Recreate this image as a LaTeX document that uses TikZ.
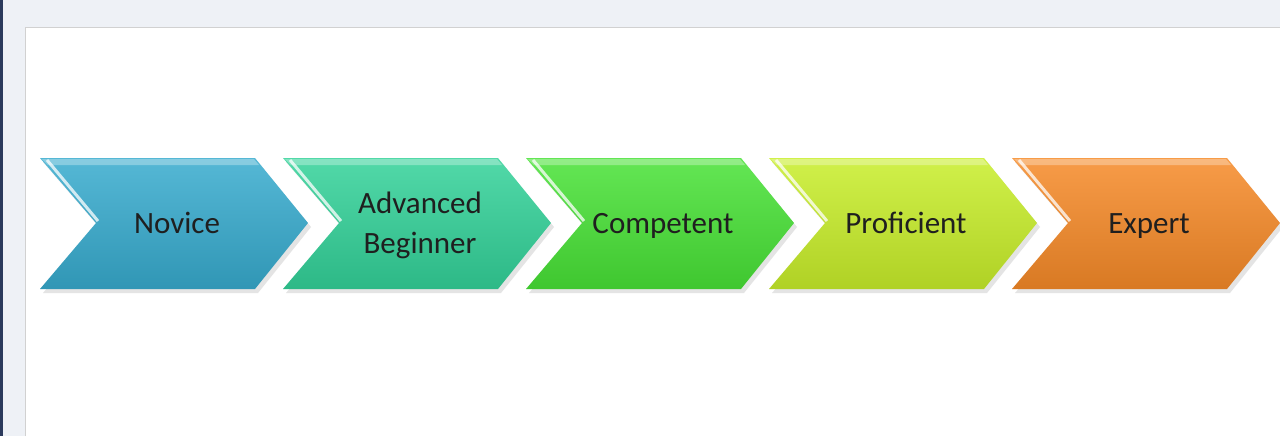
\documentclass[tikz,border=0pt]{standalone}
\usepackage{fontspec}
\setmainfont{Carlito}
\definecolor{pagebg}{HTML}{EEF1F6}
\definecolor{sidebar}{HTML}{2B3A5C}
\definecolor{novcol}{HTML}{37ABCE}
\definecolor{advcol}{HTML}{33D299}
\definecolor{compcol}{HTML}{48E236}
\definecolor{profcol}{HTML}{C8EE2A}
\definecolor{expcol}{HTML}{F68A28}
\begin{document}
\begin{tikzpicture}[x=0.5pt,y=-0.5pt]
    \useasboundingbox (0,0) rectangle (1280,436);
    \fill[pagebg] (0,0) rectangle (1280,436);
    \fill[sidebar] (0,0) rectangle (3,436);
    \fill[white] (25,27) rectangle (1280,436);
    \draw[black!18] (25,436) -- (25,27) -- (1280,27);
    % five stages, left to right (\by = baseline of last text line)
    \foreach \x/\by/\name/\col/\txt in {40/233/novice/novcol/Novice,
            283/253/advbeg/advcol/{Advanced\\Beginner},
            526/233/competent/compcol/Competent,
            769/233/proficient/profcol/Proficient,
            1012/233/expert/expcol/Expert} {
        \fill[black!30,opacity=.35] (\x+3,162) -- (\x+218,162) -- (\x+271,227)
            -- (\x+218,293) -- (\x+3,293) -- (\x+59,227) -- cycle;
        \shade[top color=\col!85!white,middle color=\col,bottom color=\col!88!black]
            (\x,158) -- (\x+215,158) -- (\x+268,223) -- (\x+215,289)
            -- (\x,289) -- (\x+56,223) -- cycle;
        \fill[white,opacity=.3] (\x+2,159) -- (\x+214,159) -- (\x+219,165) -- (\x+8,165) -- cycle;
        \draw[white,opacity=.75,line width=1.5] (\x+7,160) -- (\x+58,221);
        \node[font=\fontsize{15.5}{20}\selectfont,text=black!88,align=center,anchor=base]
            (\name) at (\x+137,\by) {\txt};
    }
\end{tikzpicture}
\end{document}
